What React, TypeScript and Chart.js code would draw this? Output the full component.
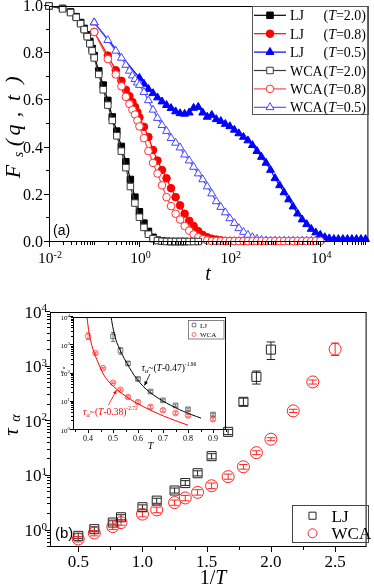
import React, { useEffect, useRef } from "react";
import { Chart, registerables } from "chart.js";

Chart.register(...registerables);

const W = 374;
const H = 588;
const SERIF = '"Liberation Serif", "Times New Roman", serif';
const SANS = '"Liberation Sans", Arial, sans-serif';

// ---------------- Panel (a): F_s(q,t) ----------------
const T_SHORT_A = [0.01, 0.02, 0.03, 0.04, 0.05, 0.06, 0.07, 0.08, 0.09];
const T_SHORT_B = [0.1, 0.2, 0.3, 0.4, 0.5, 0.6, 0.7, 0.8, 0.9];
const T_LOG = [
  0.1, 0.126, 0.158, 0.2, 0.251, 0.316, 0.398, 0.501, 0.631, 0.794,
  1, 1.26, 1.58, 2, 2.51, 3.16, 3.98, 5.01, 6.31, 7.94,
  10, 12.6, 15.8, 20, 25.1, 31.6, 39.8, 50.1, 63.1, 79.4,
  100, 126, 158, 200, 251, 316, 398, 501, 631, 794,
  1000, 1260, 1580, 2000, 2510, 3160, 3980, 5010, 6310, 7940,
  10000, 12600, 15800, 20000, 25100, 31600, 39800, 50100, 63100, 79400,
  100000,
];
const T_BLACK = [...T_SHORT_A, ...T_LOG];
const T_COLOR = [...T_SHORT_B, ...T_LOG.slice(10)];
const T_LJ05 = [T_SHORT_B[0], ...T_LOG.slice(10)];

const FS_LJ_20 = [1.0, 0.99, 0.975, 0.955, 0.93, 0.905, 0.878, 0.85, 0.82,
  0.79, 0.725, 0.665, 0.6, 0.53, 0.47, 0.405, 0.34, 0.265, 0.19, 0.128, 0.08, 0.045, 0.02, 0.008, 0.004, 0.003,
  0.002, 0.002, 0.002, 0.002];
const FS_WCA_20 = [1.0, 0.988, 0.972, 0.952, 0.925, 0.9, 0.87, 0.84, 0.81,
  0.78, 0.71, 0.645, 0.58, 0.515, 0.45, 0.385, 0.315, 0.235, 0.165, 0.105, 0.062, 0.033, 0.014, 0.006, 0.003,
  0.002, 0.002, 0.002, 0.002, 0.002, 0.002, 0.002, 0.002];
const FS_LJ_08 = [0.89, 0.79, 0.728, 0.683, 0.645, 0.618, 0.593, 0.572, 0.55,
  0.528, 0.488, 0.445, 0.39, 0.345, 0.305, 0.27, 0.228, 0.19, 0.155, 0.12, 0.09, 0.068, 0.046, 0.03, 0.02,
  0.014, 0.01, 0.007, 0.005, 0.005, 0.005, 0.005, 0.005, 0.005, 0.005];
const FS_WCA_08 = [0.89, 0.775, 0.71, 0.66, 0.615, 0.585, 0.56, 0.54, 0.515,
  0.49, 0.44, 0.385, 0.335, 0.29, 0.24, 0.19, 0.152, 0.12, 0.095, 0.068, 0.048, 0.032, 0.02, 0.012, 0.007,
  0.004, 0.004, 0.004, 0.004, 0.004, 0.004, 0.004, 0.004, 0.004, 0.004, 0.004, 0.004, 0.004,
  0.004, 0.004, 0.004, 0.004, 0.004, 0.004, 0.004, 0.004, 0.004, 0.004, 0.004, 0.004];
const FS_LJ_05 = [0.93,
  0.695, 0.67, 0.648, 0.63, 0.612, 0.595, 0.58, 0.567, 0.553, 0.545,
  0.543, 0.548, 0.568, 0.572, 0.548, 0.53, 0.538, 0.52, 0.512, 0.5,
  0.49, 0.475, 0.46, 0.445, 0.43, 0.41, 0.385, 0.36, 0.335, 0.305,
  0.27, 0.24, 0.21, 0.18, 0.15, 0.12, 0.095, 0.075, 0.055, 0.04,
  0.03, 0.02, 0.015, 0.012, 0.012, 0.012, 0.012, 0.012, 0.012, 0.012, 0.012];
const FS_WCA_05 = [0.93, 0.855, 0.81, 0.78, 0.75, 0.725, 0.705, 0.69, 0.675,
  0.665, 0.635, 0.6, 0.56, 0.525, 0.495, 0.47, 0.44, 0.42, 0.4,
  0.37, 0.345, 0.318, 0.29, 0.265, 0.235, 0.205, 0.172, 0.148, 0.125,
  0.1, 0.08, 0.058, 0.042, 0.03, 0.02, 0.013, 0.008, 0.006, 0.005,
  0.005, 0.005, 0.005, 0.005, 0.005, 0.005, 0.005, 0.005, 0.005, 0.005, 0.005];

const FS_Y_MAJOR = [0, 0.2, 0.4, 0.6, 0.8, 1.0];
const FS_Y_LABELS = ["0.0", "0.2", "0.4", "0.6", "0.8", "1.0"];
const FS_Y_MINOR = [0.1, 0.3, 0.5, 0.7, 0.9];
const T_X_MAJOR_EXP = [-2, 0, 2, 4];
const T_X_LABEL_EXP = ["-2", "0", "2", "4"];

const SERIES_A = [
  { name: "LJ", temp: "2.0", times: T_BLACK, values: FS_LJ_20, line: "#000000", mark: "#000000", fill: "#000000", style: "rect", r: 4.6, order: 1 },
  { name: "LJ", temp: "0.8", times: T_COLOR, values: FS_LJ_08, line: "#ff0000", mark: "#ff0000", fill: "#ff0000", style: "circle", r: 3.8, order: 1 },
  { name: "LJ", temp: "0.5", times: T_LJ05, values: FS_LJ_05, line: "#0000ff", mark: "#0000ff", fill: "#0000ff", style: "triangle", r: 4.6, order: 1 },
  { name: "WCA", temp: "2.0", times: T_BLACK, values: FS_WCA_20, line: "#3c3c3c", mark: "#3c3c3c", fill: "#ffffff", style: "rect", r: 4.6, order: 0 },
  { name: "WCA", temp: "0.8", times: T_COLOR, values: FS_WCA_08, line: "#ff4a4a", mark: "#ff3030", fill: "#ffffff", style: "circle", r: 3.8, order: 0 },
  { name: "WCA", temp: "0.5", times: T_COLOR, values: FS_WCA_05, line: "#5656ff", mark: "#4646ff", fill: "#ffffff", style: "triangle", r: 4.6, order: 0 },
];

// ---------------- Panel (b): tau_alpha vs 1/T ----------------
const INV_T_LJ = [0.5, 0.625, 0.769, 0.833, 1.0, 1.111, 1.25, 1.333, 1.429, 1.538, 1.667, 1.786, 1.887, 2.0];
const TAU_LJ = [0.8, 1.06, 1.4, 1.75, 2.67, 3.53, 5.4, 7.4, 11.2, 23, 64, 227, 650, 2050];
const TAU_LJ_LO = [0.72, 0.95, 1.26, 1.57, 2.4, 3.15, 4.85, 6.7, 10, 20.5, 57, 195, 480, 1350];
const TAU_LJ_HI = [0.89, 1.17, 1.55, 1.95, 2.95, 3.9, 6, 8.2, 12.4, 25.5, 71, 265, 830, 2830];
const INV_T_WCA = [0.5, 0.625, 0.769, 0.833, 1.0, 1.111, 1.25, 1.333, 1.429, 1.538, 1.667, 1.786, 1.887, 2.0, 2.174, 2.326, 2.5];
const TAU_WCA = [0.7, 0.9, 1.18, 1.4, 2.0, 2.39, 3.25, 3.95, 5.0, 6.6, 9.7, 14.7, 26.6, 47, 155, 525, 2090];
const TAU_WCA_LO = [0.62, 0.8, 1.05, 1.25, 1.78, 2.12, 2.9, 3.5, 4.45, 5.85, 8.7, 13.3, 24.5, 44, 145, 480, 1600];
const TAU_WCA_HI = [0.78, 1.0, 1.32, 1.56, 2.24, 2.68, 3.62, 4.4, 5.6, 7.4, 10.8, 16.2, 28.8, 50, 166, 570, 2700];

const B_X_MAJOR = [0.5, 1.0, 1.5, 2.0, 2.5];
const B_X_LABELS = ["0.5", "1.0", "1.5", "2.0", "2.5"];
const B_X_MINOR = [0.75, 1.25, 1.75, 2.25];
const B_Y_MAJOR_EXP = [0, 1, 2, 3, 4];

// inset fits
const FIT_LJ_T = [0.4925, 0.497, 0.501, 0.508, 0.515, 0.53, 0.545, 0.557, 0.575, 0.595, 0.62, 0.648, 0.68, 0.715, 0.75, 0.781, 0.815, 0.852];
const FIT_LJ_TAU = [10000, 5620, 3715, 1995, 1259, 631, 339, 219, 117, 64.6, 35.5, 21.4, 13.5, 8.9, 6.17, 4.57, 3.47, 2.63];
const FIT_WCA_T = [0.396, 0.4, 0.405, 0.415, 0.425, 0.435, 0.447, 0.461, 0.48, 0.501, 0.525, 0.555, 0.585, 0.621, 0.66, 0.701, 0.75, 0.8];
const FIT_WCA_TAU = [10000, 5012, 2512, 1000, 525, 316, 178, 95.5, 55, 35.5, 23.4, 14.8, 10, 6.76, 4.57, 3.16, 2.14, 1.48];
const IN_X_MAJOR = [0.4, 0.5, 0.6, 0.7, 0.8, 0.9];
const IN_X_LABELS = ["0.4", "0.5", "0.6", "0.7", "0.8", "0.9"];
const IN_X_MINOR = [0.35, 0.45, 0.55, 0.65, 0.75, 0.85, 0.95];
const IN_Y_MAJOR_EXP = [0, 1, 2, 3, 4];

// ---------------- helpers ----------------
type Run = { t: string; font: string; dy?: number };
const fs = (size: number, style = "") => `${style} ${size}px ${SERIF}`.trim();

function drawRuns(ctx: CanvasRenderingContext2D, runs: Run[], x: number, y: number, align = "left", color = "#000") {
  let w = 0;
  for (const r of runs) { ctx.font = r.font; w += ctx.measureText(r.t).width; }
  let cx = align === "center" ? x - w / 2 : align === "right" ? x - w : x;
  ctx.fillStyle = color;
  ctx.textAlign = "left";
  ctx.textBaseline = "alphabetic";
  for (const r of runs) {
    ctx.font = r.font;
    ctx.fillText(r.t, cx, y + (r.dy || 0));
    cx += ctx.measureText(r.t).width;
  }
}

function drawMarker(ctx: CanvasRenderingContext2D, style: string, x: number, y: number, r: number, fill: string | null, stroke: string, lw = 1) {
  ctx.save();
  ctx.beginPath();
  if (style === "rect") {
    const s = r * Math.SQRT1_2;
    ctx.rect(x - s, y - s, 2 * s, 2 * s);
  } else if (style === "circle") {
    ctx.arc(x, y, r, 0, Math.PI * 2);
  } else {
    const a = (2 * Math.PI) / 3;
    ctx.moveTo(x, y - r);
    ctx.lineTo(x + Math.sin(a) * r, y - Math.cos(a) * r);
    ctx.lineTo(x + Math.sin(2 * a) * r, y - Math.cos(2 * a) * r);
    ctx.closePath();
  }
  if (fill) { ctx.fillStyle = fill; ctx.fill(); }
  ctx.strokeStyle = stroke;
  ctx.lineWidth = lw;
  ctx.stroke();
  ctx.restore();
}

function line(ctx: CanvasRenderingContext2D, x1: number, y1: number, x2: number, y2: number) {
  ctx.beginPath();
  ctx.moveTo(x1, y1);
  ctx.lineTo(x2, y2);
  ctx.stroke();
}

function logTicks(min: number, max: number) {
  const out: number[] = [];
  for (let e = Math.floor(Math.log10(min)); e <= Math.ceil(Math.log10(max)); e++) {
    for (let m = 1; m < 10; m++) {
      const v = m * Math.pow(10, e);
      if (v >= min * 0.999 && v <= max * 1.001) out.push(v);
    }
  }
  return out;
}

function rotText(ctx: CanvasRenderingContext2D, s: string, x: number, yc: number, font: string, color = "#000") {
  ctx.save();
  ctx.translate(x, yc);
  ctx.rotate(-Math.PI / 2);
  ctx.font = font;
  ctx.fillStyle = color;
  ctx.textAlign = "center";
  ctx.textBaseline = "alphabetic";
  ctx.fillText(s, 0, 0);
  ctx.restore();
}

function arrow(ctx: CanvasRenderingContext2D, x1: number, y1: number, x2: number, y2: number, color: string) {
  ctx.save();
  ctx.strokeStyle = color;
  ctx.fillStyle = color;
  ctx.lineWidth = 0.8;
  line(ctx, x1, y1, x2, y2);
  const ang = Math.atan2(y2 - y1, x2 - x1);
  const L = 4, hw = 1.8;
  ctx.beginPath();
  ctx.moveTo(x2, y2);
  ctx.lineTo(x2 - L * Math.cos(ang) + hw * Math.sin(ang), y2 - L * Math.sin(ang) - hw * Math.cos(ang));
  ctx.lineTo(x2 - L * Math.cos(ang) - hw * Math.sin(ang), y2 - L * Math.sin(ang) + hw * Math.cos(ang));
  ctx.closePath();
  ctx.fill();
  ctx.restore();
}

const AREA_A = { left: 49, top: 6, right: 371, bottom: 242 };
const AREA_B = { left: 50, top: 312, right: 373, bottom: 547 };
const AREA_C = { left: 73, top: 317, right: 226, bottom: 430 };
const pad = (a: { left: number; top: number; right: number; bottom: number }) => ({
  left: a.left, top: a.top, right: W - a.right, bottom: H - a.bottom,
});

// ---------------- plugins ----------------
const frameA = {
  id: "frameA",
  afterDraw(chart: any) {
    const { ctx, chartArea: a } = chart;
    const xs = chart.scales.x, ys = chart.scales.y;
    ctx.save();
    ctx.strokeStyle = "#000";
    ctx.lineWidth = 1;
    ctx.strokeRect(a.left + 0.5, a.top + 0.5, a.right - a.left - 1, a.bottom - a.top - 1);
    const majorVals = T_X_MAJOR_EXP.map((e) => Math.pow(10, e));
    for (const v of logTicks(xs.min, xs.max)) {
      const px = Math.round(xs.getPixelForValue(v)) + 0.5;
      const isMaj = majorVals.some((m) => Math.abs(m - v) / m < 1e-6);
      line(ctx, px, a.bottom, px, a.bottom + (isMaj ? 5 : 3));
    }
    FS_Y_MAJOR.forEach((v) => {
      const py = Math.round(ys.getPixelForValue(v)) - 0.5;
      line(ctx, a.left - 5, py, a.left, py);
    });
    FS_Y_MINOR.forEach((v) => {
      const py = Math.round(ys.getPixelForValue(v)) - 0.5;
      line(ctx, a.left - 3, py, a.left, py);
    });
    FS_Y_MAJOR.forEach((v, i) => {
      drawRuns(ctx, [{ t: FS_Y_LABELS[i], font: fs(16) }], 43, ys.getPixelForValue(v) + 5, "right");
    });
    T_X_MAJOR_EXP.forEach((e, i) => {
      const px = xs.getPixelForValue(Math.pow(10, e));
      drawRuns(ctx, [{ t: "10", font: fs(15.5) }, { t: T_X_LABEL_EXP[i], font: fs(10), dy: -5.5 }], px + 1, 263, "center");
    });
    // axis titles
    drawRuns(ctx, [{ t: "t", font: fs(20, "italic") }], 208, 280, "center");
    rotText(ctx, "F", 20, 171.5, fs(22, "italic"));
    rotText(ctx, "s", 23, 154.5, fs(14, "italic"));
    rotText(ctx, "(", 20, 142.5, fs(22, "italic"));
    rotText(ctx, "q", 20, 130, fs(22, "italic"));
    rotText(ctx, ",", 20, 114.5, fs(22, "italic"));
    rotText(ctx, "t", 20, 98, fs(22, "italic"));
    rotText(ctx, ")", 20, 80, fs(22, "italic"));
    // panel tag
    ctx.font = `14px ${SANS}`;
    ctx.fillStyle = "#000";
    ctx.textAlign = "left";
    ctx.fillText("(a)", 53, 235);
    // legend
    ctx.strokeStyle = "#555";
    ctx.lineWidth = 1;
    ctx.strokeRect(252.5, 6.5, 116, 108);
    SERIES_A.forEach((s, i) => {
      const y = 15.3 + i * 18.4;
      ctx.strokeStyle = s.line;
      ctx.lineWidth = 1.2;
      line(ctx, 254, y, 286, y);
      drawMarker(ctx, s.style, 270, y, s.r, s.fill, s.mark);
      drawRuns(ctx, [{ t: s.name, font: fs(14) }], 290, y + 5, "left");
      drawRuns(ctx, [{ t: "(", font: fs(14) }, { t: "T", font: fs(14, "italic") }, { t: "=" + s.temp + ")", font: fs(14) }], 366, y + 5, "right");
    });
    ctx.restore();
  },
};

const ERR_B = [
  { xs: INV_T_LJ, lo: TAU_LJ_LO, hi: TAU_LJ_HI, color: "#222222", cap: 4.2 },
  { xs: INV_T_WCA, lo: TAU_WCA_LO, hi: TAU_WCA_HI, color: "#ff2020", cap: 4.2 },
];

const frameB = {
  id: "frameB",
  beforeDatasetsDraw(chart: any) {
    const { ctx } = chart;
    const xs = chart.scales.x, ys = chart.scales.y;
    ctx.save();
    ctx.lineWidth = 1;
    for (const e of ERR_B) {
      ctx.strokeStyle = e.color;
      e.xs.forEach((xv, i) => {
        const px = xs.getPixelForValue(xv);
        const y1 = ys.getPixelForValue(e.lo[i]);
        const y2 = ys.getPixelForValue(e.hi[i]);
        line(ctx, px, y1, px, y2);
        line(ctx, px - e.cap, y1, px + e.cap, y1);
        line(ctx, px - e.cap, y2, px + e.cap, y2);
      });
    }
    ctx.restore();
  },
  afterDraw(chart: any) {
    const { ctx, chartArea: a } = chart;
    const xs = chart.scales.x, ys = chart.scales.y;
    ctx.save();
    ctx.strokeStyle = "#000";
    ctx.lineWidth = 1;
    ctx.strokeRect(a.left + 0.5, a.top + 0.5, a.right - a.left - 1, a.bottom - a.top - 1);
    B_X_MAJOR.forEach((v) => { const px = Math.round(xs.getPixelForValue(v)) + 0.5; line(ctx, px, a.bottom, px, a.bottom + 5); });
    B_X_MINOR.forEach((v) => { const px = Math.round(xs.getPixelForValue(v)) + 0.5; line(ctx, px, a.bottom, px, a.bottom + 3); });
    const majY = B_Y_MAJOR_EXP.map((e) => Math.pow(10, e));
    for (const v of logTicks(ys.min, ys.max)) {
      const py = Math.round(ys.getPixelForValue(v)) - 0.5;
      const isMaj = majY.some((m) => Math.abs(m - v) / m < 1e-6);
      line(ctx, a.left - (isMaj ? 5 : 3), py, a.left, py);
    }
    B_X_MAJOR.forEach((v, i) => drawRuns(ctx, [{ t: B_X_LABELS[i], font: fs(17) }], xs.getPixelForValue(v), 566.5, "center"));
    B_Y_MAJOR_EXP.forEach((e) => {
      const py = ys.getPixelForValue(Math.pow(10, e));
      drawRuns(ctx, [{ t: "10", font: fs(17) }, { t: String(e), font: fs(11), dy: -6.5 }], 47, py + 5.5, "right");
    });
    drawRuns(ctx, [{ t: "1/", font: fs(20) }, { t: "T", font: fs(20, "italic") }], 213, 584, "center");
    rotText(ctx, "τ", 18, 432, fs(21, "italic"));
    rotText(ctx, "α", 20, 418, fs(14, "italic"));
    ctx.font = `15px ${SANS}`;
    ctx.fillStyle = "#000";
    ctx.textAlign = "left";
    ctx.fillText("(b)", 55, 538);
    // legend
    ctx.strokeStyle = "#444";
    ctx.lineWidth = 1;
    ctx.strokeRect(292.5, 505.5, 76, 37);
    drawMarker(ctx, "rect", 312.5, 515.7, 5, null, "#222222");
    drawMarker(ctx, "circle", 312.5, 533.3, 4.5, null, "#ff2020");
    drawRuns(ctx, [{ t: "LJ", font: fs(17) }], 331.5, 521.5, "left");
    drawRuns(ctx, [{ t: "WCA", font: fs(17) }], 331.5, 539, "left");
    ctx.restore();
  },
};

const insetLJ = INV_T_LJ.map((_, i) => i).filter((i) => 1 / INV_T_LJ[i] < 0.95);
const insetWCA = INV_T_WCA.map((_, i) => i).filter((i) => 1 / INV_T_WCA[i] < 0.95);
const ERR_C = [
  { idx: insetLJ, xs: INV_T_LJ, lo: TAU_LJ_LO, hi: TAU_LJ_HI, color: "#555555" },
  { idx: insetWCA, xs: INV_T_WCA, lo: TAU_WCA_LO, hi: TAU_WCA_HI, color: "#ff4040" },
];

const frameC = {
  id: "frameC",
  beforeDatasetsDraw(chart: any) {
    const { ctx } = chart;
    const xs = chart.scales.x, ys = chart.scales.y;
    ctx.save();
    ctx.lineWidth = 0.8;
    for (const e of ERR_C) {
      ctx.strokeStyle = e.color;
      e.idx.forEach((i) => {
        const px = xs.getPixelForValue(1 / e.xs[i]);
        const y1 = ys.getPixelForValue(e.lo[i]);
        const y2 = ys.getPixelForValue(e.hi[i]);
        line(ctx, px, y1, px, y2);
        line(ctx, px - 2, y1, px + 2, y1);
        line(ctx, px - 2, y2, px + 2, y2);
      });
    }
    ctx.restore();
  },
  afterDraw(chart: any) {
    const { ctx, chartArea: a } = chart;
    const xs = chart.scales.x, ys = chart.scales.y;
    ctx.save();
    ctx.strokeStyle = "#000";
    ctx.lineWidth = 1;
    ctx.strokeRect(a.left + 0.5, a.top + 0.5, a.right - a.left - 1, a.bottom - a.top - 1);
    IN_X_MAJOR.forEach((v) => { const px = Math.round(xs.getPixelForValue(v)) + 0.5; line(ctx, px, a.bottom, px, a.bottom + 3); });
    IN_X_MINOR.forEach((v) => { const px = Math.round(xs.getPixelForValue(v)) + 0.5; line(ctx, px, a.bottom, px, a.bottom + 2); });
    const majY = IN_Y_MAJOR_EXP.map((e) => Math.pow(10, e));
    for (const v of logTicks(ys.min, ys.max)) {
      const py = Math.round(ys.getPixelForValue(v)) - 0.5;
      const isMaj = majY.some((m) => Math.abs(m - v) / m < 1e-6);
      line(ctx, a.left - (isMaj ? 3 : 2), py, a.left, py);
    }
    IN_X_MAJOR.forEach((v, i) => drawRuns(ctx, [{ t: IN_X_LABELS[i], font: fs(8) }], xs.getPixelForValue(v), 441, "center"));
    IN_Y_MAJOR_EXP.forEach((e) => {
      const py = ys.getPixelForValue(Math.pow(10, e));
      drawRuns(ctx, [{ t: "10", font: fs(7) }, { t: String(e), font: fs(5), dy: -3 }], 70, py + 2.5, "right");
    });
    drawRuns(ctx, [{ t: "T", font: fs(10, "italic") }], 150.5, 449, "center");
    rotText(ctx, "τ", 64, 372, fs(7, "italic"));
    rotText(ctx, "α", 65, 368, fs(5, "italic"));
    // legend
    ctx.strokeStyle = "#666";
    ctx.lineWidth = 0.8;
    ctx.strokeRect(188.5, 320.5, 35.5, 18.5);
    drawMarker(ctx, "rect", 194, 325, 2.5, null, "#555555", 0.8);
    drawMarker(ctx, "circle", 194, 334.5, 2, null, "#ff4040", 0.8);
    drawRuns(ctx, [{ t: "LJ", font: fs(7) }], 200, 327.5, "left");
    drawRuns(ctx, [{ t: "WCA", font: fs(7) }], 200, 337, "left");
    // fit annotations
    const ann = (x: number, y: number, tc: string, ex: string, color: string) =>
      drawRuns(ctx, [
        { t: "τ", font: fs(9.5, "italic") },
        { t: "α", font: fs(6.5, "italic"), dy: 2 },
        { t: "~(", font: fs(9.5) },
        { t: "T", font: fs(9.5, "italic") },
        { t: "-" + tc + ")", font: fs(9.5) },
        { t: ex, font: fs(5.5), dy: -5 },
      ], x, y, "left", color);
    ann(141.5, 371, "0.47", "-1.96", "#000");
    ann(83, 415, "0.38", "-2.72", "#ff0000");
    arrow(ctx, 150, 374, 144.5, 385.5, "#000");
    arrow(ctx, 108.5, 405, 116.5, 390, "#ff0000");
    ctx.restore();
  },
};

function baseOptions(area: any, x: any, y: any) {
  return {
    responsive: false,
    animation: false,
    devicePixelRatio: 1,
    events: [],
    layout: { padding: pad(area) },
    scales: { x: { ...x, display: false }, y: { ...y, display: false } },
    plugins: { legend: { display: false }, tooltip: { enabled: false } },
  };
}

export default function App() {
  const refA = useRef<HTMLCanvasElement>(null);
  const refB = useRef<HTMLCanvasElement>(null);
  const refC = useRef<HTMLCanvasElement>(null);

  useEffect(() => {
    const charts: Chart[] = [];
    const dsA = SERIES_A.map((s) => ({
      label: s.name + "(T=" + s.temp + ")",
      data: s.values.map((v, i) => ({ x: s.times[i], y: v })),
      borderColor: s.line,
      borderWidth: 1.2,
      pointStyle: s.style,
      pointRadius: s.r,
      pointBackgroundColor: s.fill,
      pointBorderColor: s.mark,
      pointBorderWidth: 1,
      fill: false,
      tension: 0,
      clip: false,
      order: s.order,
    }));
    charts.push(new Chart(refA.current!, {
      type: "line",
      data: { datasets: dsA as any },
      options: baseOptions(AREA_A, { type: "logarithmic", min: 0.01, max: 1.16e5 }, { type: "linear", min: 0, max: 1 }) as any,
      plugins: [frameA],
    }));

    charts.push(new Chart(refB.current!, {
      type: "scatter",
      data: {
        datasets: [
          {
            label: "LJ",
            data: INV_T_LJ.map((x, i) => ({ x, y: TAU_LJ[i] })),
            pointStyle: "rect", pointRadius: 6.4, pointBorderColor: "#222222", pointBackgroundColor: "rgba(0,0,0,0)", pointBorderWidth: 1, clip: false,
          },
          {
            label: "WCA",
            data: INV_T_WCA.map((x, i) => ({ x, y: TAU_WCA[i] })),
            pointStyle: "circle", pointRadius: 6, pointBorderColor: "#ff2020", pointBackgroundColor: "rgba(0,0,0,0)", pointBorderWidth: 1, clip: false,
          },
        ] as any,
      },
      options: baseOptions(AREA_B, { type: "linear", min: 0.28, max: 2.745 }, { type: "logarithmic", min: 0.5, max: 1e4 }) as any,
      plugins: [frameB],
    }));

    charts.push(new Chart(refC.current!, {
      type: "scatter",
      data: {
        datasets: [
          {
            label: "fitLJ", type: "line",
            data: FIT_LJ_T.map((x, i) => ({ x, y: FIT_LJ_TAU[i] })),
            borderColor: "#000", borderWidth: 1, pointRadius: 0, tension: 0.3, fill: false,
          },
          {
            label: "fitWCA", type: "line",
            data: FIT_WCA_T.map((x, i) => ({ x, y: FIT_WCA_TAU[i] })),
            borderColor: "#ff0000", borderWidth: 1, pointRadius: 0, tension: 0.3, fill: false,
          },
          {
            label: "LJ",
            data: insetLJ.map((i) => ({ x: 1 / INV_T_LJ[i], y: TAU_LJ[i] })),
            pointStyle: "rect", pointRadius: 3.3, pointBorderColor: "#555555", pointBackgroundColor: "rgba(0,0,0,0)", pointBorderWidth: 0.8, clip: false,
          },
          {
            label: "WCA",
            data: insetWCA.map((i) => ({ x: 1 / INV_T_WCA[i], y: TAU_WCA[i] })),
            pointStyle: "circle", pointRadius: 2.8, pointBorderColor: "#ff4040", pointBackgroundColor: "rgba(0,0,0,0)", pointBorderWidth: 0.8, clip: false,
          },
        ] as any,
      },
      options: baseOptions(AREA_C, { type: "linear", min: 0.34, max: 0.952 }, { type: "logarithmic", min: 1, max: 1e4 }) as any,
      plugins: [frameC],
    }));

    return () => charts.forEach((c) => c.destroy());
  }, []);

  const cs: React.CSSProperties = { position: "absolute", left: 0, top: 0, width: W, height: H };
  return (
    <div style={{ position: "absolute", left: 0, top: 0, width: W, height: H, background: "#fff", overflow: "hidden" }}>
      <canvas ref={refA} width={W} height={H} style={cs} />
      <canvas ref={refB} width={W} height={H} style={cs} />
      <canvas ref={refC} width={W} height={H} style={cs} />
    </div>
  );
}
